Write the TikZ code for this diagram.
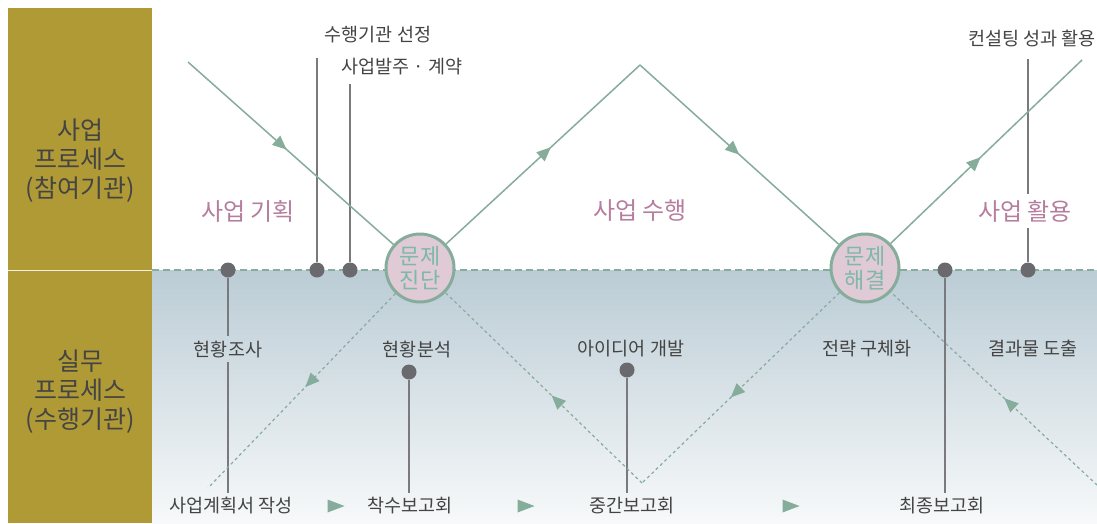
\documentclass[tikz,border=0pt]{standalone}
\usepackage{fontspec}
\setmainfont{Noto Sans CJK KR}
\usetikzlibrary{arrows.meta,decorations.markings,shapes.geometric}
\definecolor{oliven}{HTML}{B09A36}
\definecolor{gronn}{HTML}{86AC9C}
\definecolor{rosa}{HTML}{B67E9E}
\definecolor{boblefyll}{HTML}{DFCAD6}
\definecolor{bobletekst}{HTML}{7DB8A8}
\definecolor{prikkgraa}{HTML}{69696E}
\definecolor{strekgraa}{HTML}{7A7A7E}
\definecolor{tekstgraa}{HTML}{444444}
\definecolor{blaatopp}{HTML}{BBCCD5}
\definecolor{blaabunn}{HTML}{F7F9FA}
\tikzset{
    %Define style for flow lines, arrow at position #1
    flyt/.style={
           draw=gronn,
           line width=1.5pt,
           postaction={decorate},
           decoration={markings,
             mark=at position #1 with {\arrow{Triangle[length=14pt,width=12pt]}}}},
    flytstiplet/.style={
           flyt=#1,
           line width=1.2pt,
           dash pattern=on 3pt off 3pt},
    % Define style for the divider
    skille/.style={
           draw=gronn,
           line width=1.2pt,
           dash pattern=on 7pt off 4pt},
    %Define style for the two circles
    boble/.style={
           circle,
           draw=gronn,
           line width=3pt,
           fill=boblefyll,
           minimum size=68pt,
           inner sep=0pt,
           align=center,
           text=bobletekst,
           font=\fontsize{22}{24}\selectfont},
    prikk/.style={
           circle,
           fill=prikkgraa,
           minimum size=15pt,
           inner sep=0pt},
    stang/.style={
           draw=strekgraa,
           line width=1.8pt},
    % Define style for texts
    etikett/.style={
           text=tekstgraa,
           inner sep=4pt,
           font=\fontsize{18.5}{22}\selectfont},
    fase/.style={
           text=rosa,
           inner sep=6pt,
           font=\fontsize{24}{28}\selectfont},
    sidetekst/.style={
           text=tekstgraa,
           align=center,
           font=\fontsize{25}{29}\selectfont},
    spiss/.style={
           isosceles triangle,
           isosceles triangle stretches,
           fill=gronn,
           inner sep=0pt,
           minimum width=13pt,
           minimum height=17pt}
}

\begin{document}
\begin{tikzpicture}[x=1pt,y=-1pt]
  \useasboundingbox (0,0) rectangle (1097,523);
  \fill[white] (0,0) rectangle (1097,523);
  % left column and lower band
  \fill[oliven] (8,8) rectangle (152,523);
  \shade[top color=blaatopp, bottom color=blaabunn] (152,270) rectangle (1097,523);
  \coordinate (kant-v) at (8,270);
  \coordinate (skille-v) at (152,270);
  \coordinate (skille-h) at (1097,270);
  \draw[white!85!oliven, line width=1pt] (kant-v) -- (skille-v);
  \draw[skille] (skille-v) -- (skille-h);
  \node[sidetekst] (deltaker) at (80,161) {사업\\프로세스\\(참여기관)};
  \node[sidetekst] (utforer) at (80,392) {실무\\프로세스\\(수행기관)};

  % turning points and circles
  \coordinate (inn) at (188,62);
  \coordinate (topp) at (640,65);
  \coordinate (ut) at (1082,60);
  \coordinate (bunn-v) at (208,488);
  \coordinate (dal) at (642,483);
  \coordinate (bunn-h) at (1097,485);
  \node[boble] (diagnose) at (420,268) {문제\\진단};
  \node[boble] (losning) at (865,268) {문제\\해결};

  \node[fase] (planlegg) at (248,211) {사업 기획};
  \node[fase] (utfor) at (640,211) {사업 수행};
  \node[fase] (bruk) at (1025,211) {사업 활용};

  % dots
  \node[prikk] (kartlegg) at (228,270) {};
  \node[prikk] (valg) at (317,270) {};
  \node[prikk] (kontrakt) at (350,270) {};
  \node[prikk] (analyse) at (409,372) {};
  \node[prikk] (ide) at (627,370) {};
  \node[prikk] (strategi) at (945,270) {};
  \node[prikk] (resultat) at (1028,270) {};
  \coordinate (t-valg) at (317,58);
  \coordinate (t-kontrakt) at (350,84);
  \coordinate (t-resultat) at (1028,59);

  % labels
  \node[etikett] (l-valg) at (378,35) {수행기관 선정};
  \node[etikett] (l-kontrakt) at (402,67) {사업발주 · 계약};
  \node[etikett,anchor=east] (l-resultat) at (1100,38) {컨설팅 성과 활용};
  \node[etikett] (l-kartlegg) at (228,349) {현황조사};
  \node[etikett] (l-analyse) at (417,349) {현황분석};
  \node[etikett] (l-ide) at (631,349) {아이디어 개발};
  \node[etikett] (l-strategi) at (867,349) {전략 구체화};
  \node[etikett] (l-utfall) at (1033,349) {결과물 도출};
  \node[etikett] (b1) at (231,506) {사업계획서 작성};
  \node[etikett] (b2) at (410,506) {착수보고회};
  \node[etikett] (b3) at (632,506) {중간보고회};
  \node[etikett] (b4) at (942,506) {최종보고회};
  \node[spiss] (s1) at (332,506) {};
  \node[spiss] (s2) at (522,506) {};
  \node[spiss] (s3) at (787,506) {};

  % stems
  \draw[stang] (kartlegg) -- (l-kartlegg);
  \draw[stang] (l-kartlegg) -- (l-kartlegg |- b1.north);
  \draw[stang] (valg) -- (t-valg);
  \draw[stang] (kontrakt) -- (t-kontrakt);
  \draw[stang] (analyse) -- (analyse |- b2.north);
  \draw[stang] (ide) -- (ide |- b3.north);
  \draw[stang] (strategi) -- (strategi |- b4.north);
  \draw[stang] (resultat) -- (resultat |- bruk.south);
  \draw[stang] (resultat |- bruk.north) -- (t-resultat);

  % flows
  \draw[flyt=0.48] (inn) -- (diagnose);
  \draw[flyt=0.54] (diagnose) -- (topp);
  \draw[flyt=0.50] (topp) -- (losning);
  \draw[flyt=0.47] (losning) -- (ut);
  \draw[flytstiplet=0.48] (diagnose) -- (bunn-v);
  \draw[flytstiplet=0.46] (dal) -- (diagnose);
  \draw[flytstiplet=0.55] (losning) -- (dal);
  \draw[flytstiplet=0.45] (bunn-h) -- (losning);
\end{tikzpicture}
\end{document}
